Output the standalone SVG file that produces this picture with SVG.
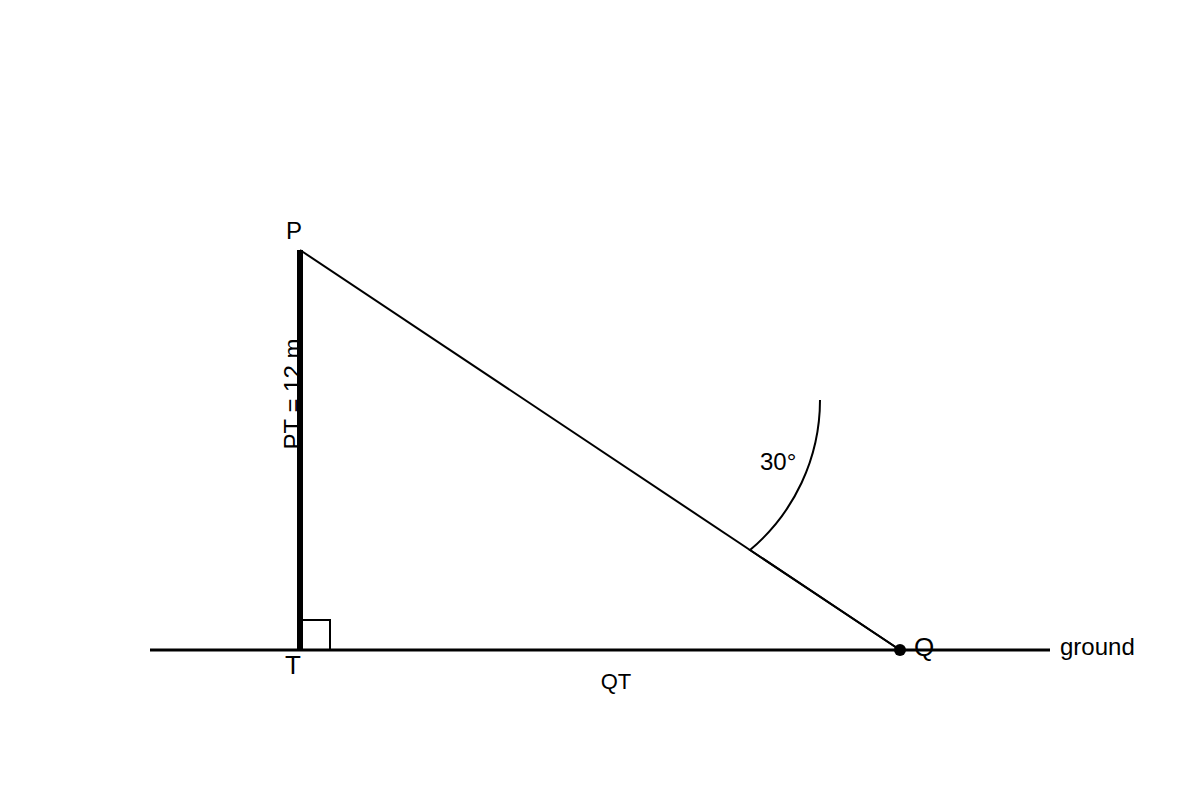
<svg xmlns="http://www.w3.org/2000/svg" width="1200" height="800" viewBox="0 0 1200 800">
<style>
text { font-family: "Liberation Sans", Arial, sans-serif; fill: #000; }
.lbl { font-size: 24px; }
.big { font-size: 26px; }
.small { font-size: 22px; }
.line { stroke: #000; fill: none; }
</style>
<rect width="1200" height="800" fill="#fff"/>
<g id="label-PT">
<text class="lbl" transform="translate(301,394) rotate(-90)" text-anchor="middle">PT = 12 m</text>
</g>
<g id="connectors">
<line class="line" x1="150" y1="650" x2="1050" y2="650" stroke-width="3"/>
<line class="line" x1="300" y1="250" x2="900" y2="650" stroke-width="2"/>
<path class="line" d="M 900 650 L 750 550 A 196 196 0 0 0 820 400" stroke-width="2"/>
</g>
<g id="pole">
<line class="line" x1="300" y1="250" x2="300" y2="650" stroke-width="6"/>
<rect class="line" x="300" y="620" width="30" height="30" stroke-width="2"/>
</g>
<g id="node-P"><text class="lbl" x="294" y="239" text-anchor="middle">P</text></g>
<g id="node-T"><text class="big" x="293" y="674" text-anchor="middle">T</text></g>
<g id="node-Q">
<circle cx="900" cy="650" r="6" fill="#000"/>
<text class="big" x="914" y="656">Q</text>
</g>
<g id="label-ground"><text class="lbl" x="1060" y="655">ground</text></g>
<g id="label-QT"><text class="small" x="616" y="689" text-anchor="middle">QT</text></g>
<g id="label-angle"><text class="lbl" x="760" y="470">30°</text></g>
</svg>
